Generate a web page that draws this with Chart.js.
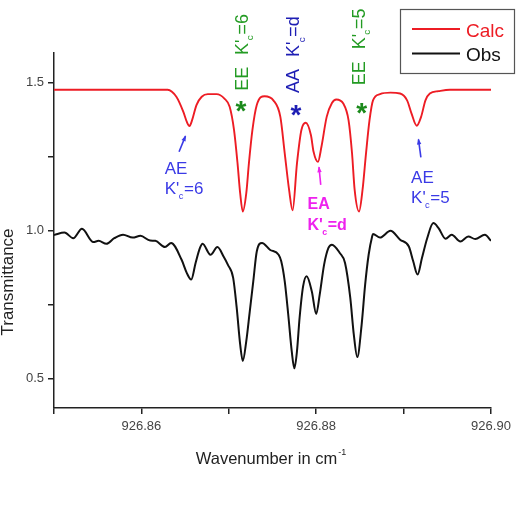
<!DOCTYPE html>
<html>
<head>
<meta charset="utf-8">
<script src="https://cdn.jsdelivr.net/npm/chart.js@4.4.1/dist/chart.umd.min.js"></script>
<style>
  body { margin: 0; background: #fff; }
  canvas { display: block; }
</style>
</head>
<body>
<canvas id="chart-spectrum" width="525" height="527"></canvas>
<script>
// calculated spectrum (red)
const calcWavenumber = [
  926.8500, 926.8630, 926.8640, 926.8648, 926.8652, 926.8655, 926.8658, 926.8663, 926.8669, 926.8676,
  926.8686, 926.8695, 926.8701, 926.8706, 926.8710, 926.8713, 926.8716, 926.8720, 926.8723, 926.8727,
  926.8732, 926.8741, 926.8751, 926.8759, 926.8764, 926.8769, 926.8773, 926.8778, 926.8783, 926.8788,
  926.8794, 926.8797, 926.8802, 926.8806, 926.8812, 926.8818, 926.8823, 926.8831, 926.8837, 926.8841,
  926.8844, 926.8849, 926.8853, 926.8857, 926.8861, 926.8865, 926.8873, 926.8885, 926.8896, 926.8904,
  926.8909, 926.8915, 926.8920, 926.8925, 926.8930, 926.8940, 926.8953, 926.9000
];
const calcTransmittance = [
  1.476, 1.476, 1.452, 1.401, 1.367, 1.353, 1.373, 1.424, 1.452, 1.461,
  1.461, 1.446, 1.418, 1.339, 1.227, 1.126, 1.064, 1.126, 1.227, 1.339,
  1.424, 1.454, 1.440, 1.384, 1.261, 1.137, 1.068, 1.227, 1.339, 1.364,
  1.322, 1.266, 1.232, 1.283, 1.384, 1.431, 1.443, 1.429, 1.373, 1.261,
  1.137, 1.064, 1.137, 1.261, 1.373, 1.440, 1.461, 1.466, 1.463, 1.440,
  1.396, 1.354, 1.384, 1.440, 1.463, 1.471, 1.476, 1.476
];

// observed spectrum (black)
const obsWavenumber = [
  926.8500, 926.8512, 926.8522, 926.8532, 926.8545, 926.8551, 926.8560, 926.8569, 926.8579, 926.8590,
  926.8599, 926.8610, 926.8616, 926.8627, 926.8634, 926.8646, 926.8652, 926.8657, 926.8662, 926.8667,
  926.8670, 926.8679, 926.8687, 926.8694, 926.8699, 926.8705, 926.8709, 926.8713, 926.8716, 926.8720,
  926.8724, 926.8728, 926.8732, 926.8738, 926.8747, 926.8757, 926.8760, 926.8764, 926.8768, 926.8772,
  926.8775, 926.8778, 926.8781, 926.8785, 926.8789, 926.8795, 926.8800, 926.8804, 926.8809, 926.8814,
  926.8818, 926.8827, 926.8833, 926.8839, 926.8843, 926.8847, 926.8852, 926.8856, 926.8860, 926.8864,
  926.8865, 926.8873, 926.8885, 926.8896, 926.8906, 926.8911, 926.8916, 926.8921, 926.8927, 926.8934,
  926.8940, 926.8948, 926.8955, 926.8965, 926.8974, 926.8982, 926.8993, 926.9000
];
const obsTransmittance = [
  0.985, 0.993, 0.974, 1.006, 0.961, 0.965, 0.955, 0.974, 0.986, 0.976,
  0.982, 0.966, 0.965, 0.944, 0.958, 0.901, 0.856, 0.834, 0.890, 0.941,
  0.955, 0.918, 0.944, 0.912, 0.884, 0.840, 0.740, 0.615, 0.559, 0.626,
  0.727, 0.828, 0.929, 0.958, 0.935, 0.918, 0.896, 0.828, 0.716, 0.592,
  0.534, 0.592, 0.705, 0.811, 0.845, 0.794, 0.718, 0.783, 0.884, 0.941,
  0.952, 0.924, 0.890, 0.772, 0.649, 0.572, 0.682, 0.817, 0.918, 0.980,
  0.988, 0.976, 0.999, 0.969, 0.946, 0.896, 0.851, 0.907, 0.974, 1.025,
  1.008, 0.972, 0.986, 0.963, 0.980, 0.971, 0.986, 0.965
];

const xTickValues = [926.85, 926.86, 926.87, 926.88, 926.89, 926.90];
const xTickLabels = ['', '926.86', '', '926.88', '', '926.90'];
const yTickValues = [0.5, 0.75, 1.0, 1.25, 1.5];
const yTickLabels = ['0.5', '', '1.0', '', '1.5'];

const FONT = "'Liberation Sans', Arial, sans-serif";
const GREEN = '#239b23';
const BLUE_DARK = '#1e1eb4';
const BLUE = '#3a3ae6';
const MAGENTA = '#ee22ee';

// line assignments
const rotatedLabels = [
  { prefix: 'EE', value: '6', x: 926.87144, y: 1.472, color: GREEN },
  { prefix: 'AA', value: 'd', x: 926.87734, y: 1.465, color: BLUE_DARK },
  { prefix: 'EE', value: '5', x: 926.88485, y: 1.491, color: GREEN }
];
const stars = [
  { x: 926.87138, y: 1.420, color: '#1b8a1b' },
  { x: 926.87768, y: 1.407, color: BLUE_DARK },
  { x: 926.88521, y: 1.413, color: '#1b8a1b' }
];
const flatLabels = [
  { prefix: 'AE', value: '6', x: 926.86267, y1: 1.190, y2: 1.123, color: BLUE, bold: false },
  { prefix: 'AE', value: '5', x: 926.89086, y1: 1.162, y2: 1.092, color: BLUE, bold: false },
  { prefix: 'EA', value: 'd', x: 926.87900, y1: 1.071, y2: 1.001, color: MAGENTA, bold: true }
];
const arrows = [
  { x1: 926.86431, y1: 1.266, x2: 926.86504, y2: 1.319, color: BLUE },
  { x1: 926.88052, y1: 1.154, x2: 926.88032, y2: 1.214, color: MAGENTA },
  { x1: 926.89198, y1: 1.247, x2: 926.89170, y2: 1.308, color: BLUE }
];

function drawKc(ctx, x0, y0, value, size, weight) {
  ctx.font = weight + ' ' + size + 'px ' + FONT;
  ctx.fillText("K'", x0, y0);
  let x1 = x0 + ctx.measureText("K'").width;
  ctx.font = weight + ' ' + (size * 0.55) + 'px ' + FONT;
  ctx.fillText('c', x1 - size * 0.04, y0 + size * 0.3);
  x1 += ctx.measureText('c').width;
  ctx.font = weight + ' ' + size + 'px ' + FONT;
  ctx.fillText('=' + value, x1, y0);
}

const spectrumDecor = {
  id: 'spectrumDecor',
  afterDraw(chart) {
    const { ctx, chartArea } = chart;
    const xs = chart.scales.x, ys = chart.scales.y;
    ctx.save();
    ctx.textAlign = 'left';
    ctx.textBaseline = 'alphabetic';

    // axis titles
    ctx.fillStyle = '#222';
    ctx.font = '17px ' + FONT;
    ctx.save();
    ctx.translate(13, 282);
    ctx.rotate(-Math.PI / 2);
    ctx.textAlign = 'center';
    ctx.fillText('Transmittance', 0, 0);
    ctx.restore();

    ctx.font = '16.5px ' + FONT;
    const main = 'Wavenumber in cm';
    const wMain = ctx.measureText(main).width;
    ctx.font = '9px ' + FONT;
    const wSup = ctx.measureText('-1').width;
    const tx = (chartArea.left + chartArea.right) / 2 - 2 - (wMain + wSup) / 2;
    ctx.font = '16.5px ' + FONT;
    ctx.fillText(main, tx, 464);
    ctx.font = '9px ' + FONT;
    ctx.fillText('-1', tx + wMain + 1, 455);

    // legend
    ctx.strokeStyle = '#555';
    ctx.lineWidth = 1.2;
    ctx.strokeRect(400.5, 9.5, 114, 64);
    const legendY = [29, 53.5];
    chart.data.datasets.forEach((ds, i) => {
      ctx.strokeStyle = ds.borderColor;
      ctx.lineWidth = 1.8;
      ctx.beginPath();
      ctx.moveTo(412, legendY[i]);
      ctx.lineTo(460, legendY[i]);
      ctx.stroke();
      ctx.fillStyle = ds.label === 'Calc' ? ds.borderColor : '#111';
      ctx.font = '19px ' + FONT;
      ctx.fillText(ds.label, 466, legendY[i] + 7.5);
    });

    // vertical assignments
    rotatedLabels.forEach(l => {
      const size = 18;
      ctx.save();
      ctx.fillStyle = l.color;
      ctx.translate(xs.getPixelForValue(l.x), ys.getPixelForValue(l.y));
      ctx.rotate(-Math.PI / 2);
      ctx.font = size + 'px ' + FONT;
      const base = size * 0.36;
      ctx.fillText(l.prefix, 0, base);
      const start = ctx.measureText(l.prefix).width + size * 0.66;
      drawKc(ctx, start, base, l.value, size, '');
      ctx.restore();
    });

    // asterisks
    ctx.textAlign = 'center';
    ctx.font = 'bold 28px ' + FONT;
    stars.forEach(s => {
      const m = ctx.measureText('*');
      const cy = ys.getPixelForValue(s.y) + (m.actualBoundingBoxAscent - m.actualBoundingBoxDescent) / 2;
      ctx.fillStyle = s.color;
      ctx.fillText('*', xs.getPixelForValue(s.x), cy);
    });
    ctx.textAlign = 'left';

    // horizontal assignments
    flatLabels.forEach(l => {
      const size = l.bold ? 16 : 17;
      const weight = l.bold ? 'bold' : '';
      ctx.fillStyle = l.color;
      ctx.font = weight + ' ' + size + 'px ' + FONT;
      const px = xs.getPixelForValue(l.x);
      ctx.fillText(l.prefix, px, ys.getPixelForValue(l.y1));
      drawKc(ctx, px, ys.getPixelForValue(l.y2), l.value, size, weight);
    });

    // arrows
    arrows.forEach(a => {
      const x1 = xs.getPixelForValue(a.x1), y1 = ys.getPixelForValue(a.y1);
      const x2 = xs.getPixelForValue(a.x2), y2 = ys.getPixelForValue(a.y2);
      const ang = Math.atan2(y2 - y1, x2 - x1);
      ctx.strokeStyle = a.color;
      ctx.fillStyle = a.color;
      ctx.lineWidth = 1.6;
      ctx.beginPath();
      ctx.moveTo(x1, y1);
      ctx.lineTo(x2, y2);
      ctx.stroke();
      ctx.beginPath();
      ctx.moveTo(x2 + Math.cos(ang) * 1, y2 + Math.sin(ang) * 1);
      ctx.lineTo(x2 - Math.cos(ang) * 5 + Math.sin(ang) * 2.2, y2 - Math.sin(ang) * 5 - Math.cos(ang) * 2.2);
      ctx.lineTo(x2 - Math.cos(ang) * 5 - Math.sin(ang) * 2.2, y2 - Math.sin(ang) * 5 + Math.cos(ang) * 2.2);
      ctx.closePath();
      ctx.fill();
    });

    ctx.restore();
  }
};

Chart.defaults.font.family = FONT;

const chartSpectrum = new Chart(document.getElementById('chart-spectrum'), {
  type: 'line',
  data: {
    datasets: [{
      label: 'Calc',
      data: calcWavenumber.map((w, i) => ({ x: w, y: calcTransmittance[i] })),
      borderColor: '#ed1c24',
      borderWidth: 1.9,
      pointRadius: 0,
      cubicInterpolationMode: 'monotone'
    }, {
      label: 'Obs',
      data: obsWavenumber.map((w, i) => ({ x: w, y: obsTransmittance[i] })),
      borderColor: '#111111',
      borderWidth: 2,
      pointRadius: 0,
      cubicInterpolationMode: 'monotone'
    }]
  },
  options: {
    responsive: false,
    animation: false,
    devicePixelRatio: 1,
    layout: { padding: { left: 0, top: 53, right: 34, bottom: 0 } },
    plugins: {
      legend: { display: false },
      tooltip: { enabled: false }
    },
    scales: {
      x: {
        type: 'linear',
        min: 926.85,
        max: 926.90,
        afterBuildTicks: s => { s.ticks = xTickValues.map(v => ({ value: v })); },
        afterFit: s => { s.height = 119; },
        ticks: {
          callback: (v, i) => xTickLabels[i],
          color: '#444',
          font: { size: 13 },
          padding: 5,
          maxRotation: 0,
          autoSkip: false
        },
        grid: { drawOnChartArea: false, drawTicks: true, tickLength: 6, color: '#222', lineWidth: 1.5 },
        border: { display: true, color: '#222', width: 1.5 }
      },
      y: {
        min: 0.4,
        max: 1.6,
        afterBuildTicks: s => { s.ticks = yTickValues.map(v => ({ value: v })); },
        afterFit: s => { s.width = 54; },
        ticks: {
          callback: (v, i) => yTickLabels[i],
          color: '#444',
          font: { size: 13 },
          padding: 4,
          autoSkip: false
        },
        grid: { drawOnChartArea: false, drawTicks: true, tickLength: 6, color: '#222', lineWidth: 1.5 },
        border: { display: true, color: '#222', width: 1.5 }
      }
    }
  },
  plugins: [spectrumDecor]
});
</script>
</body>
</html>
